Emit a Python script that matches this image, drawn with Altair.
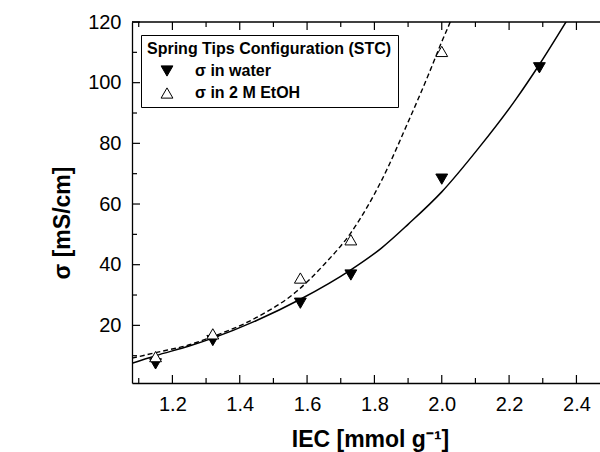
import altair as alt
import pandas as pd

# Measured conductivity, Spring Tips Configuration (STC)
series_names = ["σ in water", "σ in 2 M EtOH"]

iec_water = [1.15, 1.32, 1.58, 1.73, 2.00, 2.29]
sigma_water = [7.3, 15.0, 27.3, 36.6, 68.2, 104.9]

iec_etoh = [1.15, 1.32, 1.58, 1.73, 2.00]
sigma_etoh = [9.7, 17.2, 35.6, 48.2, 110.3]

# Fitted trend curves (sampled along each fit)
fit_water_iec = [1.08, 1.15, 1.25, 1.32, 1.45, 1.58, 1.73, 1.82, 1.90, 2.00, 2.11, 2.22, 2.29, 2.37]
fit_water_sigma = [7.5, 10.0, 13.2, 15.8, 21.6, 28.6, 38.3, 45.4, 53.3, 64.0, 78.5, 94.5, 106.0, 120.2]

fit_etoh_iec = [1.08, 1.15, 1.25, 1.32, 1.45, 1.57, 1.65, 1.73, 1.82, 1.90, 1.96, 2.00, 2.025, 2.035]
fit_etoh_sigma = [9.2, 11.0, 13.6, 16.3, 22.6, 31.3, 40.0, 50.5, 67.5, 87.0, 102.5, 113.5, 120.0, 123.0]

# Axis ticks
x_major = [1.2, 1.4, 1.6, 1.8, 2.0, 2.2, 2.4]
x_minor = [1.1, 1.3, 1.5, 1.7, 1.9, 2.1, 2.3]
y_major = [20, 40, 60, 80, 100, 120]
y_minor = [10, 30, 50, 70, 90, 110]

X_DOMAIN = [1.08, 2.47]
Y_DOMAIN = [1, 120]
W, H = 468, 361
FONT = "Liberation Sans"
MAJOR, MINOR = 8, 5

points = pd.concat([
    pd.DataFrame({"IEC": iec_water, "sigma": sigma_water, "series": series_names[0]}),
    pd.DataFrame({"IEC": iec_etoh, "sigma": sigma_etoh, "series": series_names[1]}),
])
fit_water = pd.DataFrame({"IEC": fit_water_iec, "sigma": fit_water_sigma})
fit_etoh = pd.DataFrame({"IEC": fit_etoh_iec, "sigma": fit_etoh_sigma})
tick_frame = pd.DataFrame({"edge": ["top"]})

xs = alt.Scale(domain=X_DOMAIN, nice=False, zero=False)
ys = alt.Scale(domain=Y_DOMAIN, nice=False, zero=False)

x_axis = alt.Axis(
    values=x_major, format=".1f", ticks=False, grid=False, zindex=1,
    domainColor="black", domainWidth=1.3,
    labelFont=FONT, labelFontSize=20, labelColor="black", labelPadding=11, labelFlush=False,
    title="IEC [mmol g⁻¹]", titleFont=FONT, titleFontSize=23, titleFontWeight="bold",
    titleColor="black", titleX=238, titleY=45, titleBaseline="top", titleAlign="center",
)
y_axis = alt.Axis(
    values=y_major, format="d", ticks=False, grid=False, zindex=1,
    domainColor="black", domainWidth=1.3,
    labelFont=FONT, labelFontSize=20, labelColor="black", labelPadding=11,
    labelFlush=False, labelOverlap=False,
    title="σ [mS/cm]", titleFont=FONT, titleFontSize=23, titleFontWeight="bold",
    titleColor="black", titleAngle=270, titleX=-58, titleY=200.5,
    titleBaseline="bottom", titleAlign="center",
)

legend = alt.Legend(
    title="Spring Tips Configuration (STC)", orient="none", legendX=9, legendY=13,
    padding=6, strokeColor="black", fillColor="white", cornerRadius=0,
    titleFont=FONT, titleFontSize=16, titleFontWeight="bold", titleColor="black",
    titlePadding=6, titleAnchor="start", titleLimit=0,
    labelFont=FONT, labelFontSize=16, labelFontWeight="bold", labelColor="black",
    labelOffset=20, labelLimit=0, symbolOffset=12, rowPadding=6,
    symbolSize=140, symbolStrokeWidth=1,
)

X = alt.X("IEC:Q", scale=xs, axis=x_axis)
Y = alt.Y("sigma:Q", scale=ys, axis=y_axis)

water_line = alt.Chart(fit_water).mark_line(
    color="black", strokeWidth=1.5, clip=True, interpolate="monotone"
).encode(x=X, y=Y)

etoh_line = alt.Chart(fit_etoh).mark_line(
    color="black", strokeWidth=1.4, strokeDash=[5, 3], clip=True, interpolate="monotone"
).encode(x=X, y=Y)

markers = alt.Chart(points).mark_point(
    filled=True, strokeWidth=1, opacity=1, size=140
).encode(
    x=X, y=Y,
    shape=alt.Shape("series:N", sort=series_names,
                    scale=alt.Scale(domain=series_names, range=["triangle-down", "triangle-up"]),
                    legend=legend),
    fill=alt.Fill("series:N", sort=series_names,
                  scale=alt.Scale(domain=series_names, range=["black", "white"]),
                  legend=legend),
    stroke=alt.Stroke("series:N", sort=series_names,
                      scale=alt.Scale(domain=series_names, range=["black", "black"]),
                      legend=legend),
)

# Inward tick marks on the bottom, top and left frame edges
def x_ticks(values, length, top):
    df = pd.DataFrame({"IEC": values})
    y0, y1 = (0, length) if top else (H, H - length)
    return alt.Chart(df).mark_rule(color="black", strokeWidth=1.2).encode(
        x=X, y=alt.value(y0), y2=alt.value(y1)
    )

def y_ticks(values, length):
    df = pd.DataFrame({"sigma": values})
    return alt.Chart(df).mark_rule(color="black", strokeWidth=1.2).encode(
        y=Y, x=alt.value(0), x2=alt.value(length)
    )

top_frame = alt.Chart(tick_frame).mark_rule(
    color="black", strokeWidth=1.3
).encode(x=alt.value(0), x2=alt.value(W), y=alt.value(0))

chart = alt.layer(
    water_line, etoh_line, markers,
    x_ticks(x_major, MAJOR, False), x_ticks(x_minor, MINOR, False),
    x_ticks(x_major, MAJOR, True), x_ticks(x_minor, MINOR, True),
    y_ticks(y_major, MAJOR), y_ticks(y_minor, MINOR),
    top_frame,
).properties(
    width=W, height=H,
    padding={"left": 132, "top": 22, "right": 0, "bottom": 69},
    autosize=alt.AutoSizeParams(type="none"),
    background="white",
).configure_view(stroke=None)

chart.save("out.html", embed_options={"renderer": "svg", "actions": False})
